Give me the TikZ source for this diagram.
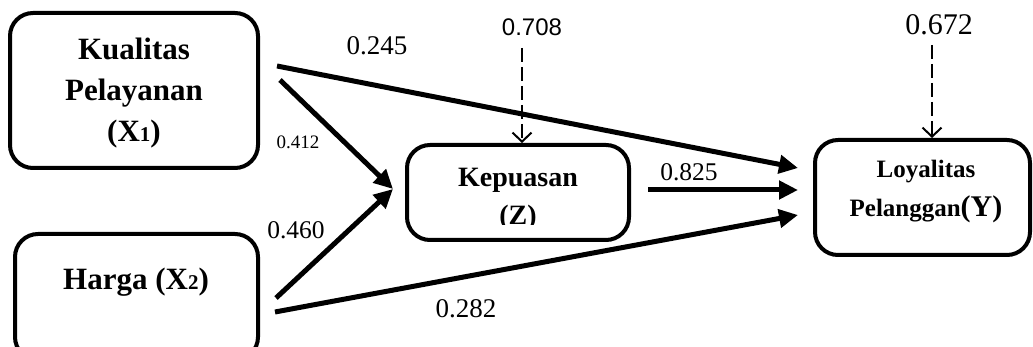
\documentclass[tikz,border=0pt]{standalone}
\usepackage{fontspec}
\setmainfont{Liberation Serif}
\newfontfamily\sansf{Liberation Sans}
\usetikzlibrary{arrows.meta,calc}
\begin{document}
\begin{tikzpicture}[x=1pt,y=-1pt,
  box/.style={draw,line width=4pt,rounded corners=23pt,inner sep=0pt,outer sep=0pt},
  pathar/.style={line width=5pt,-{Triangle[length=19pt,width=18pt]}},
  resid/.style={line width=2pt,dash pattern=on 14pt off 5pt,-{Straight Barb[length=9pt,width=19pt,line width=2pt]}},
  coef/.style={inner sep=0pt,anchor=center},
  ttl/.style={inner sep=0pt,align=center}
]
\useasboundingbox (0,0) rectangle (1033,347);
\clip (0,0) rectangle (1033,347);

% boxes
\node[box,minimum width=248pt,minimum height=155pt] (X1) at (134,90.5) {};
\node[box,minimum width=243pt,minimum height=126pt] (X2) at (136.5,297) {};
\node[box,minimum width=222pt,minimum height=95pt] (Z) at (518,192.5) {};
\node[box,minimum width=215pt,minimum height=115pt] (Y) at (922.5,197.5) {};

% box texts
\node[ttl,font={\bfseries\fontsize{31}{41}\selectfont}] (X1t) at (134,93) {Kualitas\\Pelayanan\\(X{\fontsize{21}{21}\selectfont 1})};
\node[ttl,font={\bfseries\fontsize{31}{41}\selectfont}] (X2t) at (136,282) {Harga (X{\fontsize{21}{21}\selectfont 2})};
\begin{scope}
  \clip (400,140) rectangle (640,225);
  \node[ttl,font={\bfseries\fontsize{28}{38}\selectfont}] (Zt) at (518,199) {Kepuasan\\(Z)};
\end{scope}
\node[ttl,font={\bfseries\fontsize{25}{39}\selectfont}] (Yt) at (926,192) {Loyalitas\\Pelanggan{\fontsize{30}{39}\selectfont(Y)}};

% paths
\draw[pathar] ($(X1.east)+(19,-24.5)$) -- ($(Y.west)+(-17,-29.5)$);
\draw[pathar] ($(X1.east)+(22,-10.5)$) -- ($(Z.west)+(-14,-3.5)$);
\draw[pathar] ($(X2.east)+(18,1)$) -- ($(Z.west)+(-14,-3.5)$);
\draw[pathar] ($(X2.east)+(17,15)$) -- ($(Y.west)+(-17,17.5)$);
\draw[pathar] ($(Z.east)+(19,-2.5)$) -- ($(Y.west)+(-17,-7.5)$);

% residuals
\draw[resid] ($(Z.north)+(4,-97)$) -- ($(Z.north)+(4,-2)$);
\draw[resid] ($(Y.north)+(9.5,-95)$) -- ($(Y.north)+(9.5,-2)$);

% coefficients
\node[coef,font=\fontsize{27}{27}\selectfont] (c1) at (377,46) {0.245};
\node[coef,font=\sansf\fontsize{24}{24}\selectfont] (c2) at (532,27) {0.708};
\node[coef,font=\fontsize{19}{19}\selectfont] (c3) at (298,142) {0.412};
\node[coef,font=\fontsize{25.5}{25.5}\selectfont] (c4) at (296,230) {0.460};
\node[coef,font=\fontsize{27}{27}\selectfont] (c5) at (466,309) {0.282};
\node[coef,font=\fontsize{25.5}{25.5}\selectfont] (c6) at (689,172) {0.825};
\node[coef,font=\fontsize{30}{30}\selectfont] (c7) at (939,25) {0.672};
\end{tikzpicture}
\end{document}
